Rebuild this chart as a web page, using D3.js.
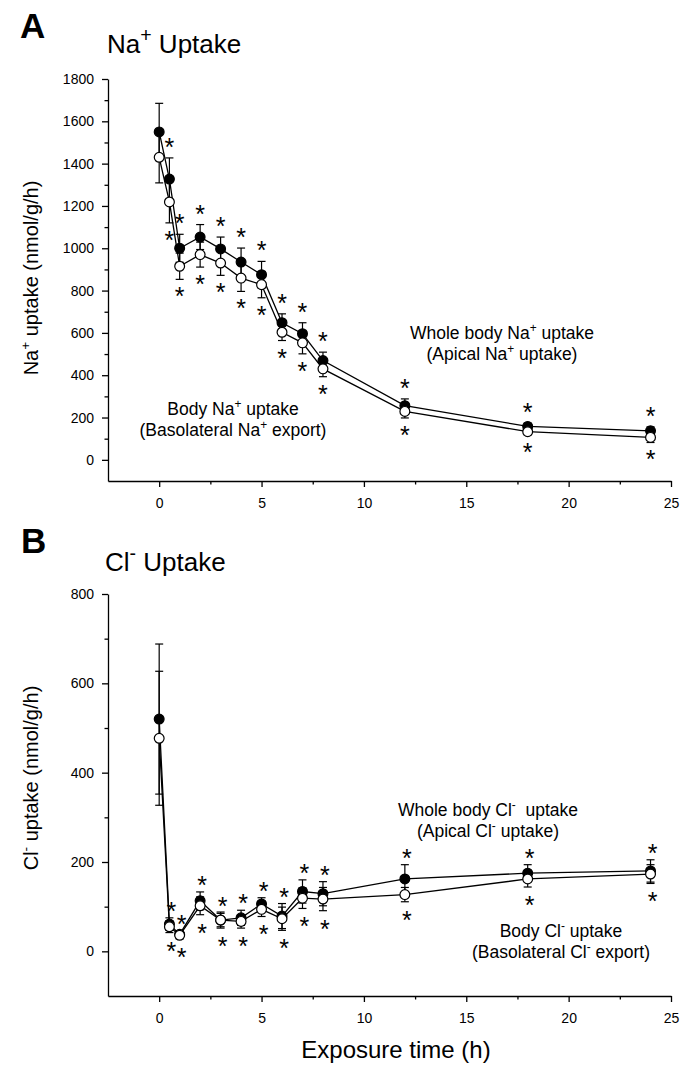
<!DOCTYPE html>
<html>
<head>
<meta charset="utf-8">
<script src="https://cdn.jsdelivr.net/npm/d3@7"></script>
<style>
  html, body { margin: 0; padding: 0; background: #fff; }
  svg { display: block; font-family: "Liberation Sans", Arial, sans-serif; }
</style>
</head>
<body>
<svg id="chart" width="693" height="1066"></svg>
<script>
// ---------------- data ----------------
const times = [0, 0.5, 1, 2, 3, 4, 5, 6, 7, 8, 12, 18, 24];

// Panel A: Na+ uptake (nmol/g/h)
const naWhole    = [1550, 1327, 1000, 1053, 997, 935, 875, 648, 596, 469, 256, 158, 137];
const naWholeSem = [135, 100, 66, 59, 56, 66, 63, 42, 52, 40, 32, 15, 19];
const naBody     = [1430, 1219, 915, 970, 930, 859, 828, 603, 553, 430, 229, 133, 106];
const naBodySem  = [121, 99, 62, 59, 58, 63, 62, 39, 52, 37, 31, 15, 24];

// Panel B: Cl- uptake (nmol/g/h)
const clWhole    = [520, 61, 38, 113, 70, 75, 106, 79, 134, 129, 162, 175, 180];
const clWholeSem = [168, 14, 8, 20, 15, 17, 14, 28, 26, 27, 32, 19, 25];
const clBody     = [477, 55, 36, 102, 70, 67, 94, 73, 119, 117, 127, 162, 173];
const clBodySem  = [150, 13, 8, 20, 18, 15, 16, 26, 23, 26, 16, 18, 21];

// significance markers (times with *)
const naStarTimes = [0.5, 1, 2, 3, 4, 5, 6, 7, 8, 12, 18, 24];
const clStarTimes = [0.5, 1, 2, 3, 4, 5, 6, 7, 8, 12, 18, 24];

// ticks
const xMajorTicks = [0, 5, 10, 15, 20, 25];
const xMinorTicks = [2.5, 7.5, 12.5, 17.5, 22.5];
const naYMajorTicks = [0, 200, 400, 600, 800, 1000, 1200, 1400, 1600, 1800];
const naYMinorTicks = [100, 300, 500, 700, 900, 1100, 1300, 1500, 1700];
const clYMajorTicks = [0, 200, 400, 600, 800];
const clYMinorTicks = [100, 300, 500, 700];

// ---------------- drawing ----------------
const svg = d3.select("#chart");
const FONT = "\"Liberation Sans\", Arial, sans-serif";

function richText(g, x, y, parts, size, anchor, transform, supScale) {
  const sc = supScale || 0.68;
  const t = g.append("text")
    .attr("x", x).attr("y", y)
    .attr("font-size", size)
    .attr("text-anchor", anchor || "start")
    .attr("fill", "#000");
  if (transform) t.attr("transform", transform);
  let raised = false;
  parts.forEach(p => {
    const s = t.append("tspan").text(p[0]);
    if (p[1] === "sup") {
      s.attr("font-size", size * sc).attr("dy", -size * 0.42);
      raised = true;
    } else if (raised) {
      s.attr("dy", size * 0.42);
      raised = false;
    }
  });
  return t;
}

function panel(cfg) {
  const g = svg.append("g");
  const x = d3.scaleLinear().domain([-2.5, 25]).range([108, 671]);
  const y = d3.scaleLinear().domain(cfg.yDomain).range(cfg.yRange);

  // axes
  const xAxisY = cfg.yRange[0];
  g.append("g").attr("transform", `translate(0,${xAxisY})`)
    .call(d3.axisBottom(x).tickValues(xMajorTicks).tickSize(6).tickSizeOuter(0).tickPadding(11).tickFormat(d3.format("d")));
  g.append("g").attr("transform", `translate(0,${xAxisY})`)
    .call(d3.axisBottom(x).tickValues(xMinorTicks).tickSize(3.5).tickSizeOuter(0).tickFormat(""))
    .select(".domain").remove();
  g.append("g").attr("transform", `translate(108,0)`)
    .call(d3.axisLeft(y).tickValues(cfg.yMajor).tickSize(6).tickSizeOuter(0).tickPadding(8).tickFormat(d3.format("d")));
  g.append("g").attr("transform", `translate(108,0)`)
    .call(d3.axisLeft(y).tickValues(cfg.yMinor).tickSize(3.5).tickSizeOuter(0).tickFormat(""))
    .select(".domain").remove();
  g.selectAll(".domain, .tick line").attr("stroke", "#000").attr("stroke-width", 1.3);
  g.selectAll(".tick text").attr("font-size", 14).attr("font-family", FONT).attr("fill", "#000");

  const rows = times.map((t, i) => ({
    t, w: cfg.whole[i], ws: cfg.wholeSem[i], b: cfg.body[i], bs: cfg.bodySem[i]
  }));

  const line = key => d3.line().x(d => x(d.t)).y(d => y(d[key]));
  g.append("path").datum(rows).attr("d", line("w"))
    .attr("fill", "none").attr("stroke", "#000").attr("stroke-width", 1.3);
  g.append("path").datum(rows).attr("d", line("b"))
    .attr("fill", "none").attr("stroke", "#000").attr("stroke-width", 1.3);

  // error bars
  const errs = [];
  rows.forEach(d => {
    errs.push({ t: d.t, v: d.w, s: d.ws });
    errs.push({ t: d.t, v: d.b, s: d.bs });
  });
  const eg = g.append("g").attr("stroke", "#000").attr("stroke-width", 1.2);
  eg.selectAll("line.v").data(errs).join("line").attr("class", "v")
    .attr("x1", d => x(d.t)).attr("x2", d => x(d.t))
    .attr("y1", d => y(d.v - d.s)).attr("y2", d => y(d.v + d.s));
  eg.selectAll("line.top").data(errs).join("line").attr("class", "top")
    .attr("x1", d => x(d.t) - 4).attr("x2", d => x(d.t) + 4)
    .attr("y1", d => y(d.v + d.s)).attr("y2", d => y(d.v + d.s));
  eg.selectAll("line.bot").data(errs).join("line").attr("class", "bot")
    .attr("x1", d => x(d.t) - 4).attr("x2", d => x(d.t) + 4)
    .attr("y1", d => y(d.v - d.s)).attr("y2", d => y(d.v - d.s));

  // markers
  g.selectAll("circle.w").data(rows).join("circle").attr("class", "w")
    .attr("cx", d => x(d.t)).attr("cy", d => y(d.w)).attr("r", 4.9)
    .attr("fill", "#000").attr("stroke", "#000").attr("stroke-width", 1.2);
  g.selectAll("circle.b").data(rows).join("circle").attr("class", "b")
    .attr("cx", d => x(d.t)).attr("cy", d => y(d.b)).attr("r", 4.9)
    .attr("fill", "#fff").attr("stroke", "#000").attr("stroke-width", 1.2);

  // significance stars
  const starRows = rows.filter(d => cfg.stars.includes(d.t));
  const starSize = 25, starLift = starSize * 0.56;
  g.selectAll("text.sa").data(starRows).join("text").attr("class", "sa")
    .attr("x", d => x(d.t) + cfg.starDx).attr("y", d => y(d.w + d.ws) - cfg.starUp + starLift)
    .attr("text-anchor", "middle").attr("font-size", starSize).text("*");
  g.selectAll("text.sb").data(starRows).join("text").attr("class", "sb")
    .attr("x", d => x(d.t) + cfg.starDx).attr("y", d => y(d.b - d.bs) + cfg.starDown + starLift)
    .attr("text-anchor", "middle").attr("font-size", starSize).text("*");

  return g;
}

// Panel A
panel({
  yDomain: [-100, 1800], yRange: [481, 79],
  yMajor: naYMajorTicks, yMinor: naYMinorTicks,
  whole: naWhole, wholeSem: naWholeSem, body: naBody, bodySem: naBodySem,
  stars: naStarTimes, starUp: 16, starDown: 12, starDx: 0
});
// Panel B
panel({
  yDomain: [-100, 800], yRange: [996, 594],
  yMajor: clYMajorTicks, yMinor: clYMinorTicks,
  whole: clWhole, wholeSem: clWholeSem, body: clBody, bodySem: clBodySem,
  stars: clStarTimes, starUp: 12, starDown: 13, starDx: 2
});

// panel letters & titles
svg.append("text").attr("x", 20).attr("y", 38).attr("font-size", 35).attr("font-weight", "bold").text("A");
svg.append("text").attr("x", 21).attr("y", 553).attr("font-size", 35).attr("font-weight", "bold").text("B");
richText(svg, 107, 53, [["Na", ""], ["+", "sup"], ["\u00a0Uptake", ""]], 26, "start", null, 0.75);
richText(svg, 105, 571, [["Cl", ""], ["-", "sup"], ["\u00a0Uptake", ""]], 26, "start", null, 0.75);

// axis titles
richText(svg, 0, 0, [["Na", ""], ["+", "sup"], [" uptake (nmol/g/h)", ""]], 20, "middle", "translate(38,278) rotate(-90)");
richText(svg, 0, 0, [["Cl", ""], ["-", "sup"], [" uptake (nmol/g/h)", ""]], 20, "middle", "translate(38,778) rotate(-90)");
svg.append("text").attr("x", 396).attr("y", 1058).attr("font-size", 24).attr("text-anchor", "middle").text("Exposure time (h)");

// annotations
richText(svg, 502, 339, [["Whole body Na", ""], ["+", "sup"], [" uptake", ""]], 17.5, "middle");
richText(svg, 502, 360, [["(Apical Na", ""], ["+", "sup"], [" uptake)", ""]], 17.5, "middle");
richText(svg, 233, 415, [["Body Na", ""], ["+", "sup"], [" uptake", ""]], 17.5, "middle");
richText(svg, 233, 436, [["(Basolateral Na", ""], ["+", "sup"], [" export)", ""]], 17.5, "middle");
richText(svg, 488, 816, [["Whole body Cl", ""], ["-", "sup"], ["\u00a0 uptake", ""]], 17.5, "middle");
richText(svg, 488, 837, [["(Apical Cl", ""], ["-", "sup"], [" uptake)", ""]], 17.5, "middle");
richText(svg, 561, 937, [["Body Cl", ""], ["-", "sup"], [" uptake", ""]], 17.5, "middle");
richText(svg, 561, 958, [["(Basolateral Cl", ""], ["-", "sup"], [" export)", ""]], 17.5, "middle");
</script>
</body>
</html>
